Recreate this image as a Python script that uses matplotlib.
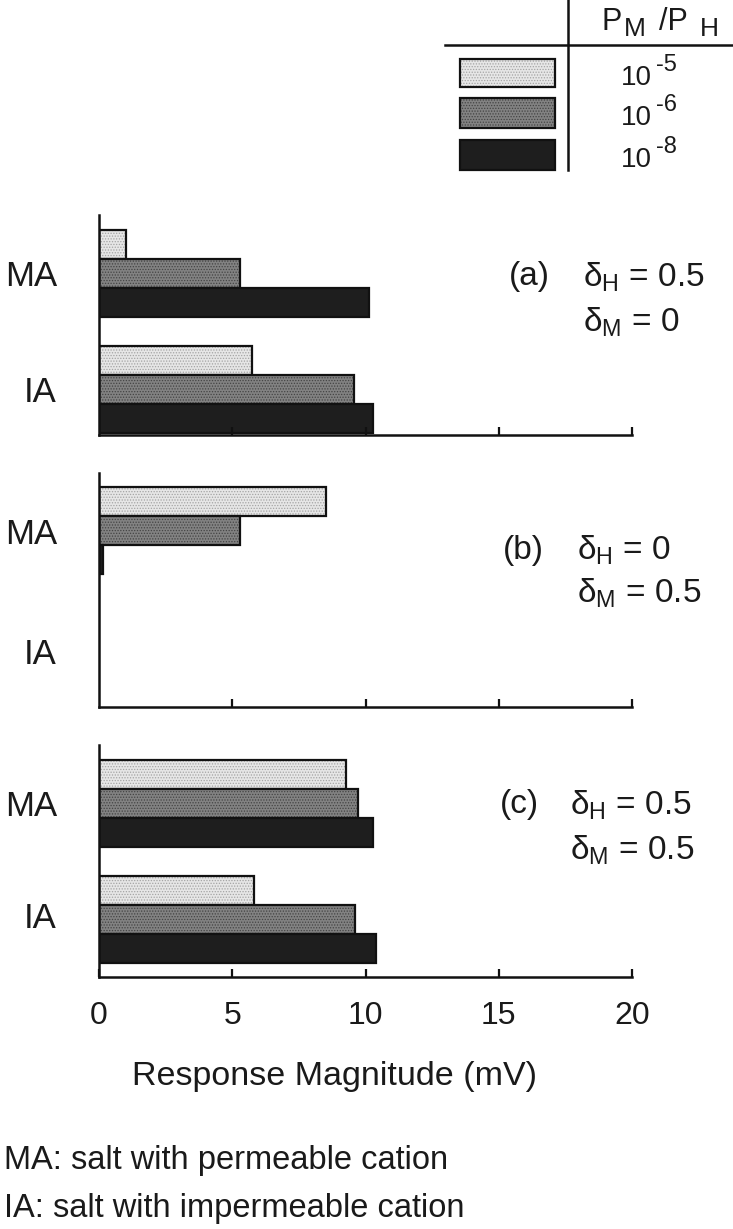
import matplotlib
matplotlib.use("Agg")
import matplotlib.pyplot as plt
from matplotlib.patches import Rectangle
from matplotlib.lines import Line2D

plt.rcParams['font.family'] = ['Liberation Sans', 'DejaVu Sans']
plt.rcParams['mathtext.fontset'] = 'custom'
plt.rcParams['mathtext.rm'] = 'Liberation Sans'
plt.rcParams['mathtext.it'] = 'Liberation Sans'
plt.rcParams['hatch.linewidth'] = 0.6

# data (mV)
salts = ["MA", "IA"]
ratio_exp = ["-5", "-6", "-8"]
a_ma = [1.0, 5.3, 10.15]
a_ia = [5.75, 9.55, 10.3]
b_ma = [8.5, 5.3, 0.15]
b_ia = [0.0, 0.0, 0.0]
c_ma = [9.25, 9.7, 10.3]
c_ia = [5.8, 9.6, 10.4]
panel_tags = ["(a)", "(b)", "(c)"]
delta_h = ["0.5", "0", "0.5"]
delta_m = ["0", "0.5", "0.5"]

faces = ["#e6e6e6", "#828282", "#1e1e1e"]
hatch_cols = ["#a4a4a4", "#444444", "#1e1e1e"]
ink = "#1a1a1a"

W, H = 733, 1229
fig = plt.figure(figsize=(W / 100, H / 100), dpi=100)


def box(left, top, right, bottom):
    return [left / W, 1 - bottom / H, (right - left) / W, (bottom - top) / H]


def px(x, y):
    return x / W, 1 - y / H


BAR_PX = 29.0
panels = [
    (a_ma, a_ia, (99, 215, 632, 435)),
    (b_ma, b_ia, (99, 473, 632, 707)),
    (c_ma, c_ia, (99, 745, 632, 977)),
]
label_y = [(277, 392), (535, 654), (806, 918)]
text_pos = [(509, 583, 277, 322), (503, 577, 550, 593), (500, 570, 805, 850)]

for i, (ma, ia, bx) in enumerate(panels):
    ax = fig.add_axes(box(*bx))
    for k in range(3):
        ys = [1 + k, 5 + k]
        vals = [ma[k], ia[k]]
        keep = [(y, v) for y, v in zip(ys, vals) if v > 0]
        if not keep:
            continue
        yy = [p[0] for p in keep]
        vv = [p[1] for p in keep]
        ax.barh(yy, vv, height=1.0, color=faces[k], edgecolor=hatch_cols[k],
                hatch="......" if k < 2 else None, linewidth=0)
        ax.barh(yy, vv, height=1.0, fill=False, edgecolor="#111111", linewidth=1.6)
    ax.set_xlim(0, 20)
    ax.set_ylim((bx[3] - bx[1]) / BAR_PX, 0)
    for s in ["top", "right"]:
        ax.spines[s].set_visible(False)
    for s in ["left", "bottom"]:
        ax.spines[s].set_linewidth(1.8)
        ax.spines[s].set_color("#111111")
    ax.set_yticks([])
    ax.tick_params(axis="x", direction="in", length=6, width=1.6, color="#111111")
    if i < 2:
        ax.set_xticks([5, 10, 15, 20])
        ax.tick_params(axis="x", labelbottom=False)
    else:
        ax.set_xticks([0, 5, 10, 15, 20])
        ax.tick_params(axis="x", labelsize=23, pad=17, labelcolor=ink)

    fig.text(*px(57, label_y[i][0]), salts[0], ha="right", va="center", fontsize=25, color=ink)
    fig.text(*px(57, label_y[i][1]), salts[1], ha="right", va="center", fontsize=25, color=ink)

    tx, dx, y1, y2 = text_pos[i]
    fig.text(*px(tx, y1), panel_tags[i], ha="left", va="center", fontsize=24, color=ink)
    fig.text(*px(dx, y1), "δ$_{\\mathrm{H}}$ = " + delta_h[i], ha="left", va="center",
             fontsize=24, color=ink)
    fig.text(*px(dx, y2), "δ$_{\\mathrm{M}}$ = " + delta_m[i], ha="left", va="center",
             fontsize=24, color=ink)

# legend drawn as a small table in the top right corner
fig.add_artist(Line2D([568 / W, 568 / W], [1, 1 - 170 / H], color="#111111", lw=1.8))
fig.add_artist(Line2D([445 / W, 1], [1 - 45 / H, 1 - 45 / H], color="#111111", lw=1.8))
fig.text(*px(601, 22), "P", ha="left", va="center", fontsize=22, color=ink)
fig.text(*px(624, 29), "M", ha="left", va="center", fontsize=19, color=ink)
fig.text(*px(659, 22), "/P", ha="left", va="center", fontsize=22, color=ink)
fig.text(*px(700, 29), "H", ha="left", va="center", fontsize=19, color=ink)

leg_rows = [(59, 87), (98, 128), (140, 170)]
for k, (t, b) in enumerate(leg_rows):
    x0, y0 = px(460, b)
    w, h = 95 / W, (b - t) / H
    fig.add_artist(Rectangle((x0, y0), w, h, transform=fig.transFigure, facecolor=faces[k],
                             edgecolor=hatch_cols[k], hatch="......" if k < 2 else None,
                             linewidth=0))
    fig.add_artist(Rectangle((x0, y0), w, h, transform=fig.transFigure, fill=False,
                             edgecolor="#111111", linewidth=1.6))
    mid = (t + b) / 2
    fig.text(*px(621, mid + 5), "10", ha="left", va="center", fontsize=20, color=ink)
    fig.text(*px(656, mid - 8), ratio_exp[k], ha="left", va="center", fontsize=17, color=ink)

fig.text(*px(335, 1077), "Response Magnitude (mV)", ha="center", va="center", fontsize=24.5,
         color=ink)
fig.text(*px(4, 1160), "MA: salt with permeable cation", ha="left", va="center",
         fontsize=23.5, color=ink)
fig.text(*px(4, 1208), "IA: salt with impermeable cation", ha="left", va="center",
         fontsize=23.5, color=ink)

fig.savefig("out.png", dpi=100, facecolor="white")
